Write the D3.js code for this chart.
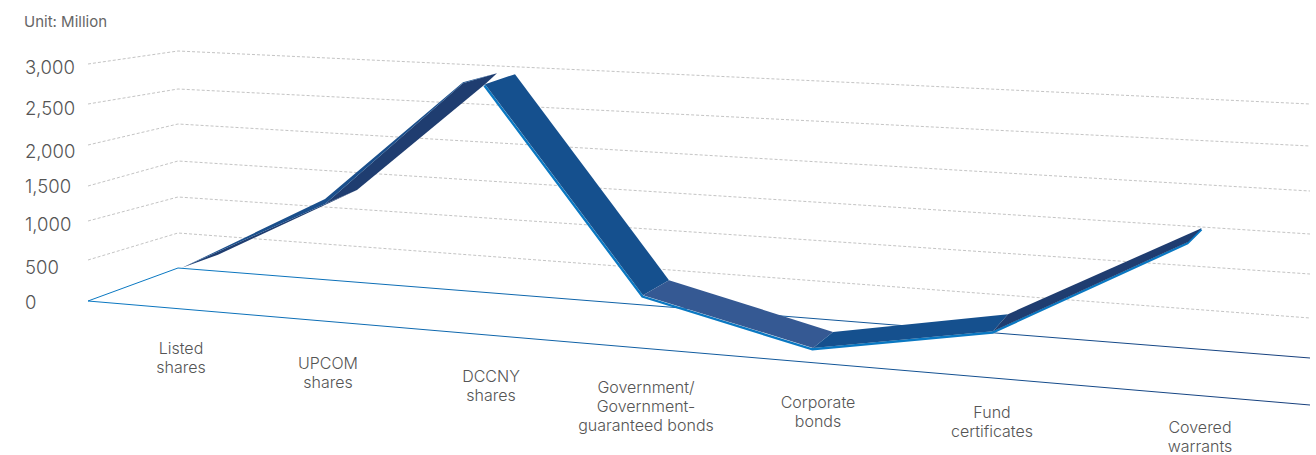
<!DOCTYPE html>
<html><head><meta charset="utf-8">
<script src="https://cdn.jsdelivr.net/npm/d3@7"></script>
<style>html,body{margin:0;background:#fff}svg{display:block}text{font-family:Inter,"Noto Sans",sans-serif}</style>
</head><body><svg id="c" width="1316" height="455"></svg>
<script>
const categories = [["Listed","shares"],["UPCOM","shares"],["DCCNY","shares"],["Government/","Government-","guaranteed bonds"],["Corporate","bonds"],["Fund","certificates"],["Covered","warrants"]];
const values = [15,1030,2700,380,10,455,1695];
const ticks = [0,500,1000,1500,2000,2500,3000];
const unitLabel = "Unit: Million";

const svg = d3.select("#c");
const idx = d3.range(categories.length);

// wall scales: where each value meets the front-left, back-left and right edges
const yFront = d3.scaleLinear().domain(ticks).range([301,260,221,186,145,104,64]);
const yBack  = d3.scaleLinear().domain(ticks).range([268,233,197,161,124,89,51]);
const yRight = d3.scaleLinear().domain(ticks).range([358,318,274,234,191,146,104]);
const yLabel = d3.scaleLinear().domain(ticks).range([302,267,224,186,151,108,67]);

// perspective ribbon scales
const xCat = d3.scaleLinear().domain(idx).range([182,325,485,643,813,993,1188]);
const dxDepth = d3.scaleLinear().domain(idx).range([36,32,30,26,20,15,14]);
const dyDepth = d3.scaleLinear().domain(idx).range([-13,-14,-10,-15,-16,-17,-14]);
const xLabel = d3.scaleLinear().domain(idx).range([181,328,491,646,818,992,1200]);
const yCatLabel = d3.scaleLinear().domain(idx).range([354,369,382,393,408,418,433]);
const ribbonBase = d3.scaleLinear().domain([182,815]).range([269,349]);
const hScale = d3.scaleLinear().domain([0,3000]).range([0,237]);
const persp = d3.scaleLinear().domain([178,1310]).range([1,1.17]);

const P = i => { const x=xCat(i); return [x, ribbonBase(x)-hScale(values[i])*persp(x)]; };
const Q = i => { const p=P(i); return [p[0]+dxDepth(i), p[1]+dyDepth(i)]; };
const line = d3.line();
const shift = (p,dx,dy) => [p[0]+dx,p[1]+dy];

const defs = svg.append("defs");
function grad(id,x1,y1,x2,y2,c1,c2){
  const g=defs.append("linearGradient").attr("id",id).attr("gradientUnits","userSpaceOnUse")
    .attr("x1",x1).attr("y1",y1).attr("x2",x2).attr("y2",y2);
  g.append("stop").attr("offset",0).attr("stop-color",c1);
  g.append("stop").attr("offset",1).attr("stop-color",c2);
}
grad("gb",178,268,1310,358,"#0a78c2","#173f7c");
grad("gf",88,301,1310,405,"#0a78c2","#173f7c");

// gridlines
svg.append("g").selectAll("path").data(ticks.slice(1)).join("path")
  .attr("d",t=>line([[88,yFront(t)],[178,yBack(t)],[1310,yRight(t)]]))
  .attr("fill","none").attr("stroke","#c4c4c4").attr("stroke-width",1).attr("stroke-dasharray","3,2");

// floor
svg.append("path").attr("d",line([[88,yFront(0)],[178,yBack(0)]])).attr("fill","none").attr("stroke","#0a78c2").attr("stroke-width",1);
svg.append("path").attr("d",line([[178,yBack(0)],[1310,yRight(0)]])).attr("fill","none").attr("stroke","url(#gb)").attr("stroke-width",1);
svg.append("path").attr("d",line([[88,yFront(0)],[1310,405]])).attr("fill","none").attr("stroke","url(#gf)").attr("stroke-width",1);

// ribbon
const peakFront = shift(P(2),-22,-1);
const peakTip = shift(P(2),12,-11);
const g = svg.append("g");
const poly = (pts,fill)=>g.append("path").attr("d",line(pts)+"Z").attr("fill",fill);

// bright lower edge
g.append("path").attr("d",line([P(2),P(3),P(4),P(5),P(6),Q(6)].map(p=>shift(p,-0.6,1.4))))
  .attr("fill","none").attr("stroke","#0a78c2").attr("stroke-width",2.4).attr("stroke-linejoin","miter");

// rising
poly([P(0),Q(0),Q(1),P(1)],"#1f3d70");
poly([P(1),Q(1),P(2),peakTip,peakFront],"#1f3d70");
poly([P(0),shift(P(1),0,-5),shift(peakFront,0,-1),peakTip,peakFront,P(1)],"#1a4f8c");
// falling and bottom
poly([P(2),Q(2),Q(3),P(3)],"#15508e");
poly([P(3),Q(3),Q(4),P(4)],"#355993");
poly([P(4),Q(4),Q(5),P(5)],"#15508e");
poly([P(5),Q(5),Q(6),P(6)],"#1f3d70");

// axis labels
svg.append("g").selectAll("text").data(ticks).join("text")
  .attr("x",25).attr("y",t=>yLabel(t)).attr("dy","0.36em")
  .attr("font-size",18.5).attr("font-weight",300).attr("fill","#555").text(d3.format(","));
svg.append("text").attr("x",24).attr("y",27).attr("font-size",15).attr("font-weight",400).attr("fill","#666").text(unitLabel);

// categories
const cg = svg.append("g").selectAll("text").data(categories).join("text")
  .attr("text-anchor","middle").attr("font-size",16).attr("font-weight",300).attr("fill","#555");
cg.each(function(lines,i){
  d3.select(this).selectAll("tspan").data(lines).join("tspan")
    .attr("x",xLabel(i)).attr("y",(d,k)=>yCatLabel(i)+k*19).text(d=>d);
});
</script></body></html>
